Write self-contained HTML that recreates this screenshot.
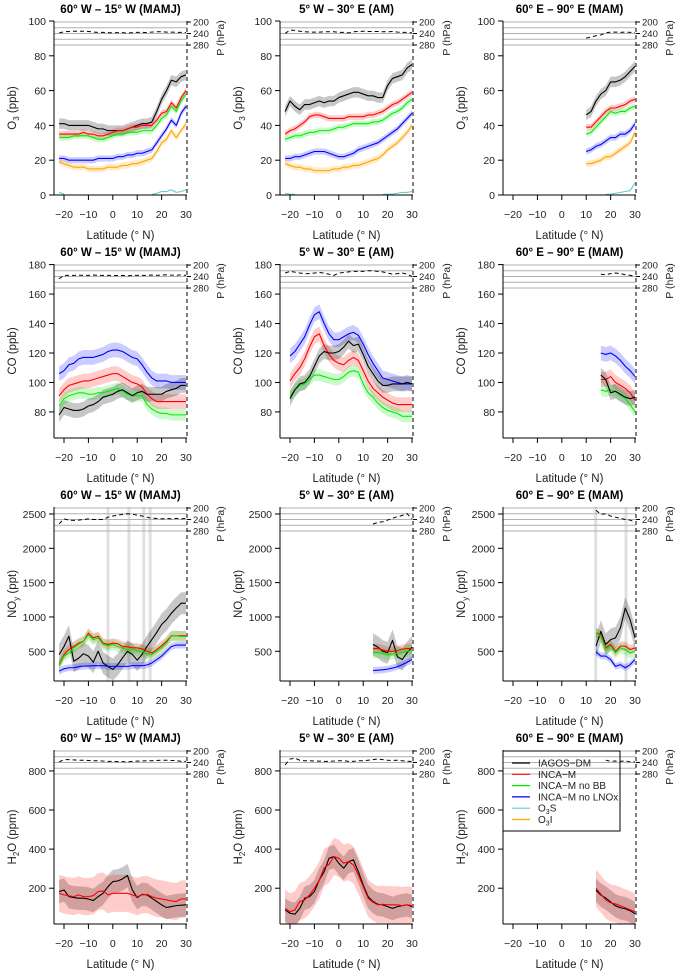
<!DOCTYPE html>
<html><head><meta charset="utf-8"><style>
html,body{margin:0;padding:0;background:#fff}
svg{display:block;font-family:"Liberation Sans",Arial,sans-serif}
</style></head><body>
<svg id="fig" width="678" height="978" viewBox="0 0 678 978" xmlns="http://www.w3.org/2000/svg"></svg>
<script>
const _ = null;
const lat = [-22,-20,-18,-16,-14,-12,-10,-8,-6,-4,-2,0,2,4,6,8,10,12,14,16,18,20,22,24,26,28,30];
const xTicks = [-20,-10,0,10,20,30];
const pTicks = [200,240,280];
const pLines = [200,220,240,260,280];
// ---------- O3 (ppb) ----------
const o3Ticks = [0,20,40,60,80,100];
const o3_c1_iagos = [41,41,40,40,40,40,40,39,38,38,37,37,37,37,38,39,40,41,41,42,48,55,60,66,65,68,69];
const o3_c1_incam = [35,35,35,35,35,36,35,35,34,34,35,36,37,37,38,39,39,40,40,40,43,47,48,53,50,56,60];
const o3_c1_nobb  = [33,33,33,34,34,34,34,33,32,32,33,34,35,35,36,36,36,37,37,37,40,44,46,51,48,54,58];
const o3_c1_nolnox= [21,21,20,20,20,20,20,20,21,21,21,21,22,22,23,23,24,24,25,26,30,34,38,43,40,47,51];
const o3_c1_o3i   = [19,18,17,16,16,16,15,15,15,15,16,16,16,17,17,18,18,19,20,21,25,30,32,37,33,37,41];
const o3_c1_o3s   = [1.5,0.5,_,_,_,_,_,_,_,_,_,_,_,_,_,_,_,_,_,0.3,1,2,2,3,1.5,2,3];
const o3_c2_iagos = [48,54,51,49,52,52,53,54,53,54,54,56,57,58,59,59,58,57,57,56,56,63,67,68,69,73,75];
const o3_c2_incam = [35,37,38,40,42,45,46,46,45,44,44,44,44,45,45,45,45,46,46,47,48,50,52,53,55,57,59];
const o3_c2_nobb  = [32,33,34,34,35,36,36,37,37,37,38,39,39,40,41,41,41,41,42,42,43,45,47,48,50,53,55];
const o3_c2_nolnox= [21,21,22,22,23,24,25,25,25,24,23,22,22,23,24,26,27,28,29,30,32,34,36,38,41,44,47];
const o3_c2_o3i   = [18,17,16,16,15,15,14,14,14,14,15,15,16,16,17,17,18,19,20,21,23,26,28,30,33,36,40];
const o3_c2_o3s   = [1,0.5,0.3,_,_,_,_,_,_,_,_,_,_,_,_,_,_,_,_,_,0.3,0.5,0.5,1,1.5,1.5,2];
const o3_c3_iagos = [_,_,_,_,_,_,_,_,_,_,_,_,_,_,_,_,46,48,54,58,60,65,65,66,68,71,74];
const o3_c3_incam = [_,_,_,_,_,_,_,_,_,_,_,_,_,_,_,_,39,39,42,45,48,50,50,51,52,54,55];
const o3_c3_nobb  = [_,_,_,_,_,_,_,_,_,_,_,_,_,_,_,_,35,36,39,42,45,48,47,48,48,50,51];
const o3_c3_nolnox= [_,_,_,_,_,_,_,_,_,_,_,_,_,_,_,_,25,26,28,29,31,33,33,35,35,37,41];
const o3_c3_o3i   = [_,_,_,_,_,_,_,_,_,_,_,_,_,_,_,_,18,18,19,20,22,22,24,26,28,30,36];
const o3_c3_o3s   = [_,_,_,_,_,_,_,_,_,_,_,_,_,_,_,_,_,_,_,_,0.3,0.5,1,1.5,2,2.5,7];
// ---------- CO (ppb) ----------
const coTicks = [80,100,120,140,160,180];
const co_c1_iagos = [78,83,82,81,81,82,84,85,87,90,91,92,94,95,93,91,93,94,92,92,92,92,94,95,96,98,98];
const co_c1_incam = [91,95,98,99,100,101,101,102,103,104,105,106,106,104,102,100,99,97,92,89,87,87,87,87,87,87,87];
const co_c1_nobb  = [84,89,91,92,93,93,92,92,93,93,94,95,96,94,92,91,91,91,85,82,80,79,79,78,78,78,78];
const co_c1_nolnox= [106,108,112,113,116,117,117,117,118,119,121,122,122,121,119,117,116,112,107,103,101,101,101,100,100,100,100];
const co_c2_iagos = [_,89,95,99,100,104,111,118,121,120,120,121,124,128,125,126,119,111,106,101,98,98,99,99,99,100,99];
const co_c2_incam = [_,101,106,110,116,124,131,133,125,119,115,113,112,115,117,115,108,101,96,93,90,88,86,85,85,85,85];
const co_c2_nobb  = [_,91,95,98,99,102,105,105,104,103,102,102,104,107,108,107,99,93,90,86,83,81,80,79,77,77,77];
const co_c2_nolnox= [_,118,121,126,131,139,146,148,140,133,129,129,131,133,134,132,126,119,113,108,103,102,101,100,99,99,99];
const co_c3_iagos = [_,_,_,_,_,_,_,_,_,_,_,_,_,_,_,_,_,_,_,105,102,93,94,92,90,89,90];
const co_c3_incam = [_,_,_,_,_,_,_,_,_,_,_,_,_,_,_,_,_,_,_,102,102,104,100,98,96,93,88];
const co_c3_nobb  = [_,_,_,_,_,_,_,_,_,_,_,_,_,_,_,_,_,_,_,95,94,95,94,91,89,85,80];
const co_c3_nolnox= [_,_,_,_,_,_,_,_,_,_,_,_,_,_,_,_,_,_,_,120,119,120,118,115,111,108,104];
// ---------- NOy (ppt) ----------
const noyTicks = [500,1000,1500,2000,2500];
const noy_c1_iagos = [450,570,720,355,400,465,430,340,500,330,280,235,305,405,500,455,370,455,570,670,775,890,960,1055,1130,1200,1200];
const noy_c1_incam = [305,450,525,570,620,645,765,695,720,620,600,620,610,570,565,550,550,535,500,475,525,580,645,725,725,725,725];
const noy_c1_nobb  = [290,430,475,550,600,645,740,670,695,600,580,600,570,550,525,525,515,500,465,450,500,550,620,720,725,715,715];
const noy_c1_nolnox= [210,245,260,260,275,285,285,290,290,290,280,280,280,280,280,290,290,290,300,330,380,430,500,570,590,590,590];
const noy_c2_iagos = [_,_,_,_,_,_,_,_,_,_,_,_,_,_,_,_,_,_,600,560,500,480,660,420,380,480,560];
const noy_c2_incam = [_,_,_,_,_,_,_,_,_,_,_,_,_,_,_,_,_,_,540,540,520,500,500,510,530,540,540];
const noy_c2_nobb  = [_,_,_,_,_,_,_,_,_,_,_,_,_,_,_,_,_,_,480,480,470,450,460,470,490,500,510];
const noy_c2_nolnox= [_,_,_,_,_,_,_,_,_,_,_,_,_,_,_,_,_,_,220,225,230,240,255,275,305,340,380];
const noy_c3_iagos = [_,_,_,_,_,_,_,_,_,_,_,_,_,_,_,_,_,_,575,790,600,670,695,840,1130,960,695];
const noy_c3_incam = [_,_,_,_,_,_,_,_,_,_,_,_,_,_,_,_,_,_,770,740,550,600,500,575,575,525,550];
const noy_c3_nobb  = [_,_,_,_,_,_,_,_,_,_,_,_,_,_,_,_,_,_,770,720,525,575,475,550,525,475,500];
const noy_c3_nolnox= [_,_,_,_,_,_,_,_,_,_,_,_,_,_,_,_,_,_,490,430,430,380,280,305,260,305,380];
const noy_c1_bars = [-2,6.6,12.7,15.3];
const noy_c3_bars = [13.9,26.3];
// ---------- H2O (ppm) ----------
const h2oTicks = [200,400,600,800];
const h2o_c1_iagos = [183,191,157,152,149,149,145,137,157,174,208,234,237,248,265,191,152,169,166,149,132,115,101,106,111,113,115];
const h2o_c1_incam = [174,166,161,157,166,157,157,162,183,186,166,174,174,174,174,166,157,166,169,157,149,145,140,135,132,145,145];
const h2o_c2_iagos = [89,72,67,97,149,157,183,242,285,353,362,328,302,336,345,285,217,157,132,118,115,106,97,106,111,115,106];
const h2o_c2_incam = [97,80,89,132,140,166,200,242,305,322,362,353,328,336,319,268,208,149,128,115,118,115,115,115,111,115,111];
const h2o_c3_iagos = [_,_,_,_,_,_,_,_,_,_,_,_,_,_,_,_,_,_,190,165,150,130,110,100,95,85,70];
const h2o_c3_incam = [_,_,_,_,_,_,_,_,_,_,_,_,_,_,_,_,_,_,200,170,140,125,120,110,100,90,80];
// ---------- Pressure (hPa) of flights ----------
const p_r1c1 = [238,234,233,232,232,232,233,235,236,236,237,238,237,237,239,237,236,236,237,235,234,234,235,235,236,236,237];
const p_r1c2 = [240,228,229,232,234,235,235,235,234,234,234,236,236,238,234,233,232,233,233,233,234,234,233,235,236,236,238];
const p_r1c3 = [_,_,_,_,_,_,_,_,_,_,_,_,_,_,_,_,256,252,248,245,238,235,235,236,235,236,236];
const p_r2c1 = [248,236,236,236,235,236,236,235,236,236,236,236,237,236,238,236,236,236,236,235,236,235,234,235,236,234,236];
const p_r2c2 = [228,222,225,228,230,230,228,226,228,232,236,228,226,224,222,222,222,220,220,222,224,228,232,230,228,232,240];
const p_r2c3 = [_,_,_,_,_,_,_,_,_,_,_,_,_,_,_,_,_,_,_,232,234,230,228,230,234,236,238];
const p_r3c1 = [255,238,242,243,242,240,238,240,240,240,232,228,225,222,220,222,225,228,232,236,236,238,236,238,236,238,236];
const p_r3c2 = [_,_,_,_,_,_,_,_,_,_,_,_,_,_,_,_,_,_,256,250,248,242,236,230,226,220,238];
const p_r3c3 = [_,_,_,_,_,_,_,_,_,_,_,_,_,_,_,_,_,_,208,222,220,228,232,236,240,242,250];
const p_r4c1 = [238,230,230,231,232,232,233,234,234,235,236,236,237,237,238,236,235,235,234,234,233,232,232,233,233,236,236];
const p_r4c2 = [248,228,225,232,234,234,235,235,236,236,235,234,234,236,236,234,234,232,230,228,230,232,233,232,234,236,236];
const p_r4c3 = [_,_,_,_,_,_,_,_,_,_,_,_,_,_,_,_,_,_,_,_,232,236,235,236,234,238,238];

const bandW = {
  o3:{iagos:3,incam:1.8,nobb:1.8,nolnox:1.8,o3i:1.8,o3s:0},
  co:{iagos:5,incam:5,nobb:4,nolnox:5},
  noy:{iagos:160,incam:70,nobb:80,nolnox:50},
  h2o:{iagos:60,incam:95}
};
const colors = {iagos:'#000000',incam:'#ff0000',nobb:'#00ee00',nolnox:'#0000ff',o3s:'#66cccc',o3i:'#ffa500'};
const bandCol = {iagos:'rgba(0,0,0,0.22)',incam:'rgba(255,0,0,0.2)',nobb:'rgba(0,230,0,0.2)',nolnox:'rgba(0,0,255,0.2)',o3i:'rgba(255,165,0,0.22)',o3s:'rgba(0,0,0,0)'};

const NS='http://www.w3.org/2000/svg';
const svg=document.getElementById('fig');
function mk(tag,attrs,parent){const e=document.createElementNS(NS,tag);for(const k in attrs)e.setAttribute(k,attrs[k]);(parent||svg).appendChild(e);return e;}

const colLeft=[54,280,503], W=133, rowTop=[21,264,507,750], H=174;
const xDom=[-24.1,30.4];
const rows=[
 {key:'o3',dom:[0,100],ticks:o3Ticks,label:['O','3',' (ppb)']},
 {key:'co',dom:[62.3,180.4],ticks:coTicks,label:['CO','',' (ppb)']},
 {key:'noy',dom:[67,2602],ticks:noyTicks,label:['NO','y',' (ppt)']},
 {key:'h2o',dom:[17,907],ticks:h2oTicks,label:['H','2','O (ppm)']}
];
const titles=['60° W – 15° W (MAMJ)','5° W – 30° E (AM)','60° E – 90° E (MAM)'];
const panelSeries=[
 [{iagos:o3_c1_iagos,incam:o3_c1_incam,nobb:o3_c1_nobb,nolnox:o3_c1_nolnox,o3i:o3_c1_o3i,o3s:o3_c1_o3s},
  {iagos:o3_c2_iagos,incam:o3_c2_incam,nobb:o3_c2_nobb,nolnox:o3_c2_nolnox,o3i:o3_c2_o3i,o3s:o3_c2_o3s},
  {iagos:o3_c3_iagos,incam:o3_c3_incam,nobb:o3_c3_nobb,nolnox:o3_c3_nolnox,o3i:o3_c3_o3i,o3s:o3_c3_o3s}],
 [{incam:co_c1_incam,nobb:co_c1_nobb,nolnox:co_c1_nolnox,iagos:co_c1_iagos},
  {incam:co_c2_incam,nobb:co_c2_nobb,nolnox:co_c2_nolnox,iagos:co_c2_iagos},
  {incam:co_c3_incam,nobb:co_c3_nobb,nolnox:co_c3_nolnox,iagos:co_c3_iagos}],
 [{iagos:noy_c1_iagos,nolnox:noy_c1_nolnox,incam:noy_c1_incam,nobb:noy_c1_nobb},
  {iagos:noy_c2_iagos,nolnox:noy_c2_nolnox,incam:noy_c2_incam,nobb:noy_c2_nobb},
  {iagos:noy_c3_iagos,nolnox:noy_c3_nolnox,incam:noy_c3_incam,nobb:noy_c3_nobb}],
 [{iagos:h2o_c1_iagos,incam:h2o_c1_incam},
  {iagos:h2o_c2_iagos,incam:h2o_c2_incam},
  {iagos:h2o_c3_iagos,incam:h2o_c3_incam}]
];
const pressures=[[p_r1c1,p_r1c2,p_r1c3],[p_r2c1,p_r2c2,p_r2c3],[p_r3c1,p_r3c2,p_r3c3],[p_r4c1,p_r4c2,p_r4c3]];
const barsFor=[[[],[],[]],[[],[],[]],[noy_c1_bars,[],noy_c3_bars],[[],[],[]]];

function segments(arr){const segs=[];let cur=[];arr.forEach((v,i)=>{if(v===null){if(cur.length)segs.push(cur);cur=[];}else cur.push(i);});if(cur.length)segs.push(cur);return segs;}

rows.forEach((row,r)=>{
 for(let c=0;c<3;c++){
  const L=colLeft[c],T=rowTop[r],R=L+W,B=T+H;
  const xs=v=>L+(v-xDom[0])/(xDom[1]-xDom[0])*W;
  const ys=v=>B-(v-row.dom[0])/(row.dom[1]-row.dom[0])*H;
  const ps=p=>T+1+(p-200)*0.2875;
  const g=mk('g',{});
  
  
  const clip=mk('clipPath',{id:'cp'+r+c},g);mk('rect',{x:L,y:T,width:W,height:H},clip);
  const pg=mk('g',{'clip-path':'url(#cp'+r+c+')'},g);
  barsFor[r][c].forEach(b=>{const e=mk('rect',{x:xs(b)-1.5,y:T,width:3,height:H,fill:'#e0e0e0'},pg);
   
   });
  pLines.forEach(p=>{const e=mk('line',{x1:L,x2:R,y1:ps(p),y2:ps(p),stroke:'#b0b0b0','stroke-width':1},pg);
   
   });
  const pArr=pressures[r][c];
  segments(pArr).forEach(s=>{const e=mk('polyline',{points:s.map(i=>xs(lat[i])+','+ps(pArr[i])).join(' '),fill:'none',stroke:'#000','stroke-width':1,'stroke-dasharray':'4,3'},pg);
   
   });
  const ser=panelSeries[r][c];
  Object.keys(ser).forEach(k=>{const arr=ser[k],w=bandW[row.key][k];if(!w)return;
   segments(arr).forEach(s=>{const up=s.map(i=>xs(lat[i])+','+ys(arr[i]+w));const lo=s.slice().reverse().map(i=>xs(lat[i])+','+ys(arr[i]-w));
    const e=mk('polygon',{points:up.concat(lo).join(' '),fill:bandCol[k],stroke:'none'},pg);
    
    });});
  Object.keys(ser).forEach(k=>{const arr=ser[k];
   segments(arr).forEach(s=>{const e=mk('polyline',{points:s.map(i=>xs(lat[i])+','+ys(arr[i])).join(' '),fill:'none',stroke:colors[k],'stroke-width':1.1,'stroke-linejoin':'round'},pg);
    
    });});
  mk('line',{x1:L,x2:L,y1:T,y2:B,stroke:'#000','stroke-width':1},g);
  mk('line',{x1:L,x2:R,y1:B,y2:B,stroke:'#000','stroke-width':1},g);
  mk('line',{x1:R,x2:R,y1:T,y2:B,stroke:'#000','stroke-width':1,'stroke-dasharray':'4,3'},g);
  row.ticks.forEach(t=>{const y=ys(t);mk('line',{x1:L-5,x2:L,y1:y,y2:y,stroke:'#000'},g);
   const e=mk('text',{x:L-8,y:y+4,'font-size':'10.5','text-anchor':'end',fill:'#222'},g);e.textContent=t;
   
   });
  xTicks.forEach(t=>{const x=xs(t);mk('line',{x1:x,x2:x,y1:B,y2:B+5,stroke:'#000'},g);
   const e=mk('text',{x:x,y:B+23,'font-size':'10.5','text-anchor':'middle',fill:'#222'},g);e.textContent=(t<0?'\u2212'+(-t):t);
   
   });
  pTicks.forEach(p=>{const y=ps(p);mk('line',{x1:R,x2:R+4,y1:y,y2:y,stroke:'#000'},g);
   const e=mk('text',{x:R+6,y:y+3.5,'font-size':'9.5',fill:'#222'},g);e.textContent=p;
   
   });
  const pl=mk('text',{x:0,y:0,'font-size':'10.5',fill:'#222','text-anchor':'middle',transform:'translate('+(R+37)+','+(T+17)+') rotate(-90)'},g);pl.textContent='P (hPa)';
  
  
  const tt=mk('text',{x:L+W/2,y:T-8,'font-size':'11.5','font-weight':'bold','text-anchor':'middle',fill:'#000'},g);tt.textContent=titles[c];
  
  
  const xl=mk('text',{x:L+W/2,y:B+44,'font-size':'11.5','text-anchor':'middle',fill:'#222'},g);xl.textContent='Latitude (° N)';
  
  
  const yl=mk('text',{x:0,y:0,'font-size':'11.5','text-anchor':'middle',fill:'#222',transform:'translate('+(L-38)+','+(T+H/2)+') rotate(-90)'},g);
  
  
  const a=mk('tspan',{},yl);a.textContent=row.label[0];
  if(row.label[1]){const b=mk('tspan',{'font-size':'8',dy:'3'},yl);b.textContent=row.label[1];const cc=mk('tspan',{dy:'-3'},yl);cc.textContent=row.label[2];}
  else{const cc=mk('tspan',{},yl);cc.textContent=row.label[2];}
 }
});
const leg=mk('g',{});


mk('rect',{x:503,y:751,width:117,height:80,fill:'none',stroke:'#000','stroke-width':1},leg);
const legItems=[['iagos','IAGOS\u2212DM'],['incam','INCA\u2212M'],['nobb','INCA\u2212M no BB'],['nolnox','INCA\u2212M no LNOx'],['o3s','O|3|S'],['o3i','O|3|I']];
legItems.forEach((it,i)=>{const y=763+i*11.3;
 const e=mk('g',{},leg);
 
 
 mk('line',{x1:512,x2:530,y1:y,y2:y,stroke:colors[it[0]],'stroke-width':1.2},e);
 const t=mk('text',{x:538,y:y+3.5,'font-size':'10',fill:'#222'},e);
 const parts=it[1].split('|');
 if(parts.length===3){const a=mk('tspan',{},t);a.textContent=parts[0];const b=mk('tspan',{'font-size':'7',dy:'2.5'},t);b.textContent=parts[1];const c=mk('tspan',{dy:'-2.5'},t);c.textContent=parts[2];}
 else t.textContent=it[1];
});
</script>
</body></html>
